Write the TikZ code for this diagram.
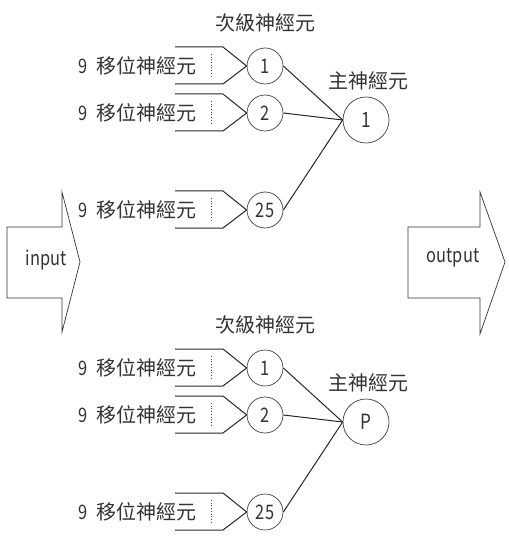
\documentclass[tikz,border=0pt]{standalone}
\usepackage{fontspec}
\setmainfont{Noto Sans CJK TC}
\newfontfamily\narrowfont[FakeStretch=0.82]{Noto Sans CJK TC}
\begin{document}
\begin{tikzpicture}[x=1pt,y=-1pt,
  lbl/.style={inner sep=0pt, font=\fontsize{20}{20}\selectfont, text=black!80},
  lat/.style={inner sep=0pt, font=\narrowfont\fontsize{20}{20}\selectfont, text=black!80},
  sub/.style={circle, draw=black!75, line width=0.7pt, minimum size=36pt, inner sep=0pt, text=black!80, font=\narrowfont\fontsize{20}{20}\selectfont},
  mainn/.style={circle, draw=black!75, line width=0.7pt, minimum size=46pt, inner sep=0pt, text=black!80, font=\narrowfont\fontsize{21}{21}\selectfont},
  wire/.style={draw=black!85, line width=1pt},
  dots/.style={draw=black!70, dotted, line width=0.7pt},
  bigarrow/.style={draw=black!80, line width=0.7pt}
]
\useasboundingbox (0,0) rectangle (508,545);
\newcommand\drawgroup[1]{%
  \node[lbl] (head) at (265,23) {次級神經元};
  \node[sub] (s1) at (265,66) {1};
  \node[sub] (s2) at (265,113) {2};
  \node[sub] (s3) at (265,210) {25};
  \node[mainn] (m) at (366,120) {#1};
  \node[lbl] (mh) at (368,81) {主神經元};
  \foreach \i/\y in {1/66,2/113,3/210}{
    \node[lbl, anchor=west] (t\i) at (78,\y) {{\narrowfont 9}\hspace{0.45em}移位神經元};
    \coordinate (a\i) at (175,\y-19);
    \coordinate (b\i) at (223,\y-19);
    \coordinate (c\i) at (223,\y+18);
    \coordinate (d\i) at (175,\y+18);
    \coordinate (p\i) at (211,\y-12);
    \coordinate (q\i) at (211,\y+12);
    \draw[wire] (a\i) -- (b\i) -- (s\i.west) -- (c\i) -- (d\i);
    \draw[dots] (p\i) -- (q\i);
    \draw[wire] (s\i.east) -- (m.west);
  }
}
\begin{scope}[name prefix=top-]
  \drawgroup{1}
\end{scope}
\begin{scope}[yshift=-302pt, name prefix=bot-]
  \drawgroup{P}
\end{scope}
% input arrow
\node[lat] (inp) at (46,260) {input};
\draw[bigarrow] (7,227) -- (62,227) -- (62,192) -- (80,262) -- (62,332) -- (62,298) -- (7,298) -- cycle;
% output arrow
\node[lat] (outp) at (453,258) {output};
\draw[bigarrow] (408,227) -- (480,227) -- (480,192) -- (505,262) -- (480,334) -- (480,298) -- (408,298) -- cycle;
\end{tikzpicture}
\end{document}
